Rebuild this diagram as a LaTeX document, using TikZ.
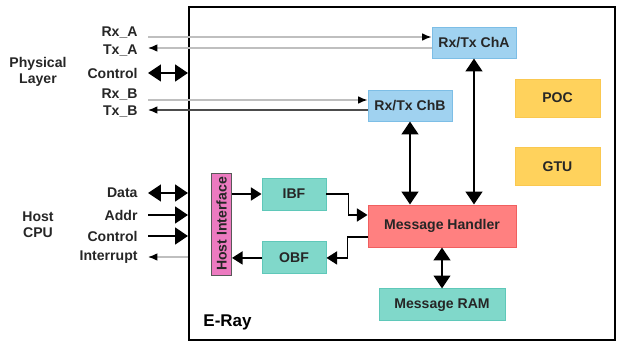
\documentclass[tikz,border=0pt]{standalone}
\usepackage{fontspec}
\setmainfont{Liberation Sans}
\usepackage{xcolor}
\usetikzlibrary{positioning, arrows.meta}

\definecolor{chblue}{RGB}{160,210,240}
\definecolor{chedge}{RGB}{125,190,230}
\definecolor{ctlyel}{RGB}{255,210,92}
\definecolor{ctledge}{RGB}{250,200,80}
\definecolor{buftea}{RGB}{128,216,202}
\definecolor{bufedge}{RGB}{95,200,185}
\definecolor{mhred}{RGB}{255,128,128}
\definecolor{mhedge}{RGB}{240,95,95}
\definecolor{hifpink}{RGB}{236,122,192}

\begin{document}
\begin{tikzpicture}[x=0.03cm, y=-0.03cm, thick,
    font=\bfseries\fontsize{12}{13.6}\selectfont,
    blk/.style={draw, rectangle, inner sep=0pt, text=black!85, line width=0.8pt},
    chbox/.style={blk, fill=chblue, draw=chedge, minimum width=2.52cm, minimum height=0.93cm},
    ctlbox/.style={blk, fill=ctlyel, draw=ctledge, minimum width=2.55cm, minimum height=1.14cm},
    bufbox/.style={blk, fill=buftea, draw=bufedge, minimum width=1.92cm, minimum height=0.96cm},
    sig/.style={anchor=east, inner sep=0pt, text=black!85},
    grayline/.style={draw=black!25, line width=1.1pt},
    darkline/.style={draw=black!70, line width=1.1pt},
    smallhead/.style={-{Latex[length=8pt, width=6.5pt, color=black]}},
    buslink/.style={draw=black, line width=2.4pt},
    bighead/.style={-{Triangle[length=11pt, width=14pt]}},
    bigboth/.style={{Triangle[length=11pt, width=14pt]}-{Triangle[length=11pt, width=14pt]}},
    midlink/.style={draw=black, line width=1.6pt, -{Triangle[length=9pt, width=11pt]}}]
    \useasboundingbox (0,0) rectangle (617,342);

    % E-Ray block
    \node[draw, rectangle, line width=1.6pt, minimum width=12.78cm, minimum height=9.99cm] (eray) at (402,173.5) {};
    \node[anchor=south west, inner sep=0pt, font=\bfseries\fontsize{14.5}{16}\selectfont] (erlbl) at (203,330) {E-Ray};

    % Nodes
    \node[chbox] (cha) at (474,42.5) {Rx/Tx ChA};
    \node[chbox] (chb) at (410,105.5) {Rx/Tx ChB};
    \node[ctlbox] (poc) at (557.5,98) {POC};
    \node[ctlbox, below=0.9cm of poc] (gtu) {GTU};
    \node[blk, fill=mhred, draw=mhedge, minimum width=4.44cm, minimum height=1.26cm] (mh) at (442,226) {Message Handler};
    \node[blk, fill=buftea, draw=bufedge, minimum width=3.78cm, minimum height=0.96cm, below=1.23cm of mh] (ram) {Message RAM};
    \node[blk, fill=hifpink, draw=black!65, minimum width=0.6cm, minimum height=3.06cm] (hif) at (221.5,224) {\rotatebox{90}{Host Interface}};
    \node[bufbox] (ibf) at (294,194) {IBF};
    \node[bufbox, below=0.93cm of ibf] (obf) {OBF};

    % Side labels
    \node[align=center, inner sep=0pt, text=black!85] (phys) at (38,72) {Physical\\Layer};
    \node[align=center, inner sep=0pt, text=black!85] (hcpu) at (38,225) {Host\\CPU};
    \node[sig] (rxa) at (138,33) {Rx\_A};
    \node[sig] (txa) at (138,51) {Tx\_A};
    \node[sig] (pctl) at (138,73) {Control};
    \node[sig] (rxb) at (138,95) {Rx\_B};
    \node[sig] (txb) at (138,112) {Tx\_B};
    \node[sig] (data) at (138,193) {Data};
    \node[sig] (addr) at (138,215) {Addr};
    \node[sig] (hctl) at (138,236) {Control};
    \node[sig] (irq) at (138,257) {Interrupt};

    % Line ends
    \coordinate (rxa-in) at (148,37);
    \coordinate (txa-out) at (148,48);
    \coordinate (rxb-in) at (148,100);
    \coordinate (txb-out) at (148,110);

    % Connections
    \draw[grayline, smallhead] (rxa-in) -- (rxa-in -| cha.west);
    \draw[grayline, smallhead] (txa-out -| cha.west) -- (txa-out);
    \draw[grayline, smallhead] (rxb-in) -- (rxb-in -| chb.west);
    \draw[darkline, smallhead] (txb-out -| chb.west) -- (txb-out);
    \draw[buslink, bigboth] (pctl.east -| txa-out) -- (pctl.east -| eray.west);
    \draw[buslink, bigboth] (data.east -| txa-out) -- (data.east -| eray.west);
    \draw[buslink, bighead] (addr.east -| txa-out) -- (addr.east -| eray.west);
    \draw[buslink, bighead] (hctl.east -| txa-out) -- (hctl.east -| eray.west);
    \draw[grayline, smallhead] (irq.east -| eray.west) -- (irq.east -| txa-out);

    \draw[buslink, bigboth] (chb.south) -- (chb.south |- mh.north);
    \draw[buslink, bigboth] (cha.south) -- (cha.south |- mh.north);
    \draw[buslink, bigboth] (mh.south) -- (ram.north);

    \draw[midlink] (hif.east |- ibf.west) -- (ibf.west);
    \draw[midlink] (obf.west) -- (obf.west -| hif.east);
    \draw[midlink] (ibf.east) -- ++(22,0) |- ([yshift=9.4pt]mh.west);
    \draw[midlink] ([yshift=-9.4pt]mh.west) -- ++(-20,0) |- (obf.east);
\end{tikzpicture}
\end{document}
